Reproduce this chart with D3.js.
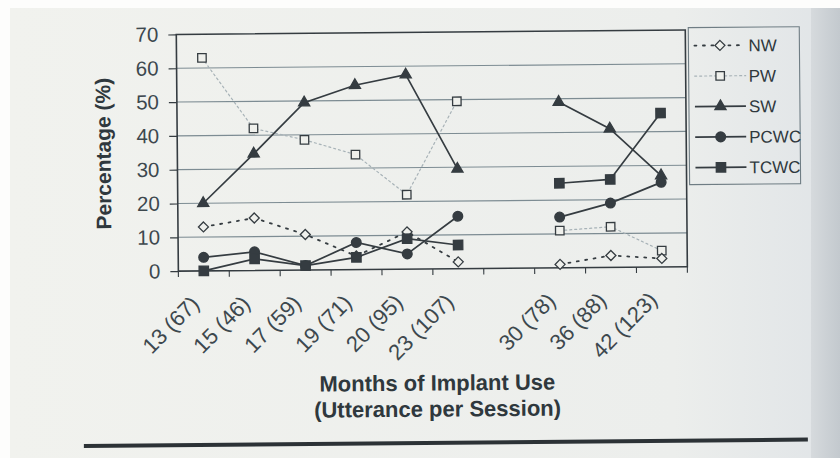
<!DOCTYPE html>
<html>
<head>
<meta charset="utf-8">
<script src="https://cdn.jsdelivr.net/npm/d3@7"></script>
<style>
  html, body { margin: 0; padding: 0; background: #fff; }
  svg { display: block; font-family: "Liberation Sans", Arial, sans-serif; }
</style>
</head>
<body>
<svg id="chart" width="840" height="458"></svg>
<script>
// values
const categories = ["13 (67)", "15 (46)", "17 (59)", "19 (71)", "20 (95)", "23 (107)", "", "30 (78)", "36 (88)", "42 (123)"];
const nwValues = [13, 15.5, 10.5, 4, 11, 2, null, 1, 3.5, 2.5];
const pwValues = [63, 42, 38.5, 34, 22, 49.5, null, 11, 12, 4.8];
const swValues = [20, 34.5, 49.5, 54.5, 57.5, 29.5, null, 49, 41, 27];
const pcwcValues = [4, 5.5, 1.3, 8, 4.5, 15.5, null, 15, 19, 25];
const tcwcValues = [0, 3.4, 1.3, 3.6, 9, 7, null, 25, 26, 45.5];
const yTicks = [0, 10, 20, 30, 40, 50, 60, 70];
const seriesNames = ["NW", "PW", "SW", "PCWC", "TCWC"];

const ink = "#353c41";
const paper = "#eff0ec";

const diamond = (r) => `M0,${-r}L${r},0L0,${r}L${-r},0Z`;
const symbolPath = {
  diamond: diamond(5),
  open: d3.symbol(d3.symbolSquare, 72)(),
  square: d3.symbol(d3.symbolSquare, 88)(),
  triangle: d3.symbol(d3.symbolTriangle, 54)(),
  circle: d3.symbol(d3.symbolCircle, 74)(),
};

const series = [
  { name: seriesNames[1], values: pwValues, stroke: "#a7b2b7", width: 1.2, dash: "2,3", marker: "open", fill: paper, mstroke: ink },
  { name: seriesNames[0], values: nwValues, stroke: ink, width: 1.8, dash: "2,6.5", marker: "diamond", fill: paper, mstroke: ink },
  { name: seriesNames[2], values: swValues, stroke: ink, width: 1.7, dash: null, marker: "triangle", fill: ink, mstroke: ink },
  { name: seriesNames[3], values: pcwcValues, stroke: ink, width: 1.7, dash: null, marker: "circle", fill: ink, mstroke: ink },
  { name: seriesNames[4], values: tcwcValues, stroke: ink, width: 1.7, dash: null, marker: "square", fill: ink, mstroke: ink },
];
const legendOrder = seriesNames.map((n) => series.find((s) => s.name === n));

const plot = { left: 178, right: 687, top: 32.3, bottom: 269 };

const svg = d3.select("#chart");

// scanned page background
const defs = svg.append("defs");
const grad = defs.append("linearGradient").attr("id", "pageGrad");
grad.append("stop").attr("offset", "0%").attr("stop-color", "#f1f2ee");
grad.append("stop").attr("offset", "80%").attr("stop-color", "#eceeec");
grad.append("stop").attr("offset", "100%").attr("stop-color", "#e0e4e7");
const gutter = defs.append("linearGradient").attr("id", "gutterGrad");
gutter.append("stop").attr("offset", "0%").attr("stop-color", "#d6dadd");
gutter.append("stop").attr("offset", "100%").attr("stop-color", "#c3c9ce");

svg.append("rect").attr("width", 840).attr("height", 458).attr("fill", "#fdfdfc");
svg.append("rect").attr("x", 10).attr("y", 8).attr("width", 830).attr("height", 450).attr("fill", "url(#pageGrad)");
svg.append("rect").attr("x", 811).attr("y", 8).attr("width", 29).attr("height", 450).attr("fill", "url(#gutterGrad)");

const root = svg.append("g").attr("transform", "rotate(-0.5,420,229)");

const x = d3.scaleBand().domain(categories).range([plot.left, plot.right]).padding(0);
const y = d3.scaleLinear().domain([0, 70]).range([plot.bottom, plot.top]);
const cx = (i) => x(categories[i]) + x.bandwidth() / 2;

// gridlines
root.append("g")
  .selectAll("line")
  .data(yTicks.filter((t) => t > 0 && t < 70))
  .join("line")
  .attr("x1", plot.left)
  .attr("x2", plot.right)
  .attr("y1", (d) => y(d))
  .attr("y2", (d) => y(d))
  .attr("stroke", "#7d8c93")
  .attr("stroke-width", 1.1);

// y axis
const gy = root.append("g")
  .attr("transform", `translate(${plot.left},0)`)
  .call(d3.axisLeft(y).tickValues(yTicks).tickSize(8).tickPadding(10));
gy.select(".domain").remove();
gy.selectAll(".tick line").attr("stroke", ink).attr("stroke-width", 1.2);
gy.selectAll(".tick text")
  .attr("fill", "#3d484e")
  .attr("font-size", 20.5)
  .attr("font-family", "'Liberation Sans', Arial, sans-serif");

// x ticks at band boundaries
const boundaries = categories.map((c) => x(c)).concat([plot.right]);
root.append("g")
  .selectAll("line")
  .data(boundaries)
  .join("line")
  .attr("x1", (d) => d)
  .attr("x2", (d) => d)
  .attr("y1", plot.bottom)
  .attr("y2", plot.bottom + 6)
  .attr("stroke", ink)
  .attr("stroke-width", 1.1);

// x labels
root.append("g")
  .selectAll("text")
  .data(categories)
  .join("text")
  .attr("transform", (d, i) => `translate(${cx(i) - 9},${plot.bottom + 29}) rotate(-45)`)
  .attr("text-anchor", "end")
  .attr("dy", "0.35em")
  .attr("font-size", 22)
  .attr("fill", "#3d484e")
  .text((d) => d);

// frame
root.append("rect")
  .attr("x", plot.left)
  .attr("y", plot.top)
  .attr("width", plot.right - plot.left)
  .attr("height", plot.bottom - plot.top)
  .attr("fill", "none")
  .attr("stroke", ink)
  .attr("stroke-width", 1.6);

// series
const line = d3.line()
  .defined((d) => d != null)
  .x((d, i) => cx(i))
  .y((d) => y(d));

const layers = root.append("g")
  .selectAll("g")
  .data(series)
  .join("g");

layers.append("path")
  .attr("d", (s) => line(s.values))
  .attr("fill", "none")
  .attr("stroke", (s) => s.stroke)
  .attr("stroke-width", (s) => s.width)
  .attr("stroke-dasharray", (s) => s.dash)
  .attr("stroke-linecap", (s) => (s.dash ? "round" : "butt"));

layers.selectAll("path.mark")
  .data((s) => s.values.map((v, i) => ({ v, i, s })).filter((d) => d.v != null))
  .join("path")
  .attr("class", "mark")
  .attr("transform", (d) => `translate(${cx(d.i)},${y(d.v)})`)
  .attr("d", (d) => symbolPath[d.s.marker])
  .attr("fill", (d) => d.s.fill)
  .attr("stroke", (d) => d.s.mstroke)
  .attr("stroke-width", 1.3);

// legend
const legend = root.append("g");
legend.append("rect")
  .attr("x", 690)
  .attr("y", 30)
  .attr("width", 111)
  .attr("height", 157)
  .attr("fill", "none")
  .attr("stroke", "#6f7d84")
  .attr("stroke-width", 1.1);

const rows = legend.selectAll("g.row")
  .data(legendOrder)
  .join("g")
  .attr("class", "row")
  .attr("transform", (d, i) => `translate(0,${48 + i * 30.5})`);

rows.append("line")
  .attr("x1", 696)
  .attr("x2", 747)
  .attr("stroke", (s) => s.stroke)
  .attr("stroke-width", (s) => s.width)
  .attr("stroke-dasharray", (s) => s.dash)
  .attr("stroke-linecap", (s) => (s.dash ? "round" : "butt"));

rows.append("path")
  .attr("transform", "translate(721.5,0)")
  .attr("d", (s) => symbolPath[s.marker])
  .attr("fill", (s) => s.fill)
  .attr("stroke", (s) => s.mstroke)
  .attr("stroke-width", 1.3);

rows.append("text")
  .attr("x", 750)
  .attr("dy", "0.36em")
  .attr("font-size", 17)
  .attr("fill", "#2f383d")
  .text((s) => s.name);

// axis titles
root.append("text")
  .attr("transform", "translate(104,151) rotate(-90)")
  .attr("text-anchor", "middle")
  .attr("dy", "0.35em")
  .attr("font-size", 21)
  .attr("font-weight", "bold")
  .attr("fill", "#2f383d")
  .text("Percentage (%)");

root.append("text")
  .attr("x", 436)
  .attr("y", 383)
  .attr("text-anchor", "middle")
  .attr("dy", "0.35em")
  .attr("font-size", 22)
  .attr("font-weight", "bold")
  .attr("fill", "#2f383d")
  .text("Months of Implant Use");

root.append("text")
  .attr("x", 436)
  .attr("y", 409)
  .attr("text-anchor", "middle")
  .attr("dy", "0.35em")
  .attr("font-size", 22)
  .attr("font-weight", "bold")
  .attr("fill", "#2f383d")
  .text("(Utterance per Session)");

// rule under the figure
root.append("line")
  .attr("x1", 82)
  .attr("x2", 806)
  .attr("y1", 443)
  .attr("y2", 443)
  .attr("stroke", "#2c3236")
  .attr("stroke-width", 4);
</script>
</body>
</html>
